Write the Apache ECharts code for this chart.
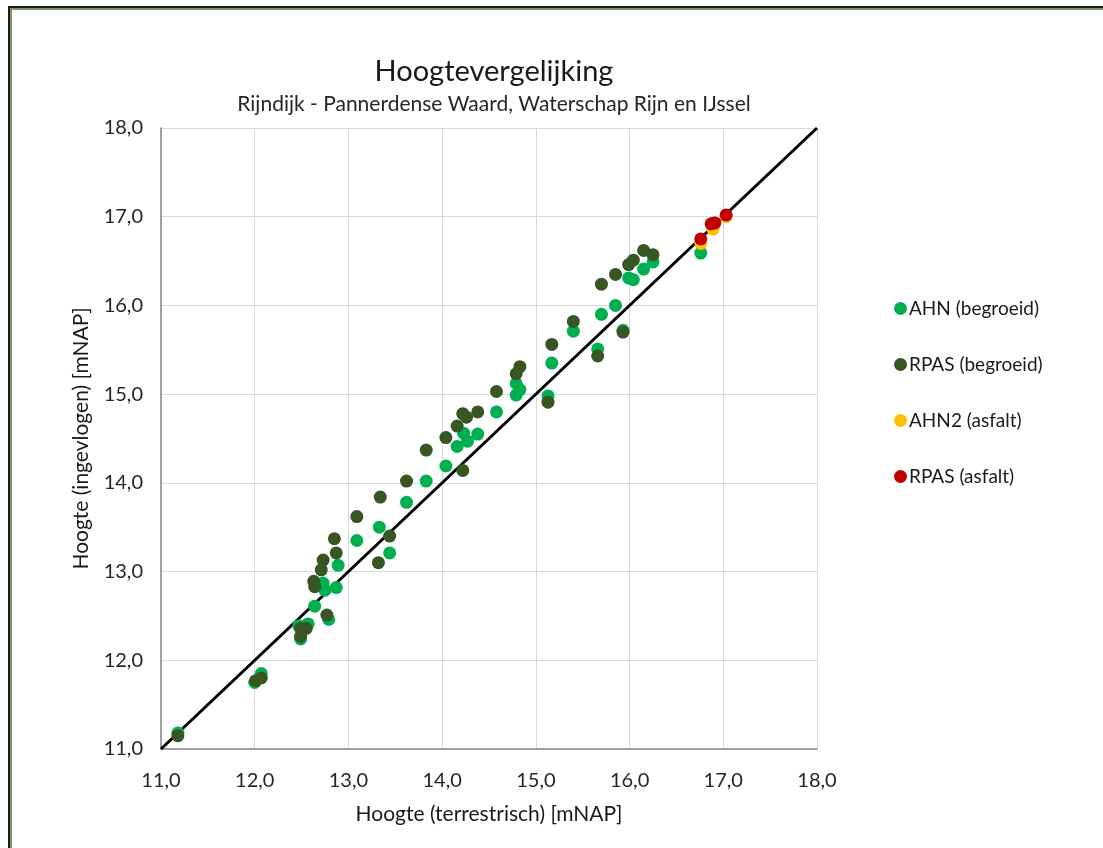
<!DOCTYPE html>
<html>
<head>
<meta charset="utf-8">
<script src="https://cdn.jsdelivr.net/npm/echarts@6/dist/echarts.min.js"></script>
<style>
html,body{margin:0;padding:0;background:#fff;}
#c{width:1103px;height:848px;}
</style>
</head>
<body>
<div id="c"></div>
<script>
const xTicks = [11, 12, 13, 14, 15, 16, 17, 18];
const yTicks = [11, 12, 13, 14, 15, 16, 17, 18];
const seriesNames = ['AHN (begroeid)', 'RPAS (begroeid)', 'AHN2 (asfalt)', 'RPAS (asfalt)'];
const referenceLine = [[11, 11], [18, 18]];

const ahnBegroeid = [
  [11.18,11.18],[12.00,11.75],[12.07,11.85],[12.47,12.39],[12.49,12.24],[12.57,12.41],
  [12.64,12.61],[12.79,12.46],[12.73,12.87],[12.75,12.79],[12.87,12.82],[12.89,13.07],
  [13.09,13.35],[13.33,13.50],[13.44,13.21],[13.62,13.78],[13.83,14.02],[14.04,14.19],
  [14.16,14.41],[14.23,14.56],[14.27,14.47],[14.38,14.55],[14.58,14.80],[14.79,14.99],
  [14.79,15.12],[14.83,15.05],[15.13,14.98],[15.17,15.35],[15.40,15.71],[15.66,15.51],
  [15.70,15.90],[15.85,16.00],[15.93,15.72],[15.99,16.31],[16.04,16.29],[16.15,16.41],
  [16.25,16.49],[16.76,16.59]
];
const rpasBegroeid = [
  [11.18,11.15],[12.01,11.77],[12.07,11.80],[12.49,12.36],[12.55,12.36],[12.49,12.27],
  [12.77,12.51],[12.63,12.89],[12.64,12.83],[12.71,13.02],[12.73,13.13],[12.87,13.21],
  [12.85,13.37],[13.09,13.62],[13.32,13.10],[13.34,13.84],[13.44,13.40],[13.62,14.02],
  [13.83,14.37],[14.04,14.51],[14.22,14.14],[14.16,14.64],[14.22,14.78],[14.26,14.74],
  [14.38,14.80],[14.58,15.03],[14.79,15.23],[14.83,15.31],[15.13,14.91],[15.17,15.56],
  [15.40,15.82],[15.66,15.43],[15.93,15.70],[15.70,16.24],[15.85,16.35],[15.99,16.46],
  [16.04,16.51],[16.15,16.62],[16.25,16.57]
];
const ahn2Asfalt = [[16.76,16.70],[16.89,16.86],[17.03,17.00]];
const rpasAsfalt = [[16.76,16.75],[16.87,16.92],[16.91,16.93],[17.03,17.02]];

const colors = ['#00B050', '#375623', '#FFC000', '#C00000'];
const fontFam = 'Lato, "Liberation Sans", sans-serif';
const fmt = v => v.toFixed(1).replace('.', ',');

const chart = echarts.init(document.getElementById('c'), null, {renderer: 'canvas'});
const scatter = (name, data, color, z) => ({
  name, type: 'scatter', data, symbol: 'circle', symbolSize: 13, z,
  itemStyle: {color, opacity: 1}
});
chart.setOption({
  animation: false,
  backgroundColor: '#fff',
  graphic: [
    {type: 'rect', shape: {x: 9, y: 7, width: 1200, height: 1000}, style: {fill: 'none', stroke: '#1b1b1b', lineWidth: 2}, silent: true},
    {type: 'rect', shape: {x: 11, y: 9, width: 1200, height: 1000}, style: {fill: 'none', stroke: '#4f7a2b', lineWidth: 1.5}, silent: true}
  ],
  title: {
    text: 'Hoogtevergelijking',
    subtext: 'Rijndijk - Pannerdense Waard, Waterschap Rijn en IJssel',
    left: 489, top: 52, textAlign: 'center', itemGap: 8,
    textStyle: {fontFamily: fontFam, fontSize: 29, fontWeight: 'normal', color: '#1a1a1a'},
    subtextStyle: {fontFamily: fontFam, fontSize: 21, color: '#262626'}
  },
  legend: {
    orient: 'vertical', left: 889, top: 294, itemGap: 37,
    icon: 'circle', itemWidth: 13, itemHeight: 13,
    data: seriesNames,
    textStyle: {fontFamily: fontFam, fontSize: 19, color: '#1a1a1a', padding: [0, 0, 0, -3]}
  },
  grid: {left: 161, top: 128, right: 286, bottom: 99, containLabel: false},
  xAxis: {
    type: 'value', min: xTicks[0], max: xTicks[xTicks.length - 1], interval: 1,
    name: 'Hoogte (terrestrisch) [mNAP]', nameLocation: 'middle', nameGap: 55,
    nameTextStyle: {fontFamily: fontFam, fontSize: 21, color: '#1a1a1a'},
    axisLine: {lineStyle: {color: '#868686', width: 1.5}},
    axisTick: {show: false},
    axisLabel: {fontFamily: fontFam, fontSize: 20, color: '#262626', margin: 22, formatter: fmt},
    splitLine: {show: true, lineStyle: {color: '#d9d9d9', width: 1}}
  },
  yAxis: {
    type: 'value', min: yTicks[0], max: yTicks[yTicks.length - 1], interval: 1,
    name: 'Hoogte (ingevlogen) [mNAP]', nameLocation: 'middle', nameGap: 69,
    nameTextStyle: {fontFamily: fontFam, fontSize: 21, color: '#1a1a1a'},
    axisLine: {show: true, lineStyle: {color: '#868686', width: 1.5}},
    axisTick: {show: false},
    axisLabel: {fontFamily: fontFam, fontSize: 20, color: '#262626', margin: 18, formatter: fmt},
    splitLine: {show: true, lineStyle: {color: '#d9d9d9', width: 1}}
  },
  series: [
    {name: 'lijn', type: 'line', data: referenceLine, symbol: 'none', z: 1,
     lineStyle: {color: '#000', width: 3}, silent: true},
    scatter(seriesNames[0], ahnBegroeid, colors[0], 3),
    scatter(seriesNames[1], rpasBegroeid, colors[1], 4),
    scatter(seriesNames[2], ahn2Asfalt, colors[2], 5),
    scatter(seriesNames[3], rpasAsfalt, colors[3], 6)
  ]
});
</script>
</body>
</html>
